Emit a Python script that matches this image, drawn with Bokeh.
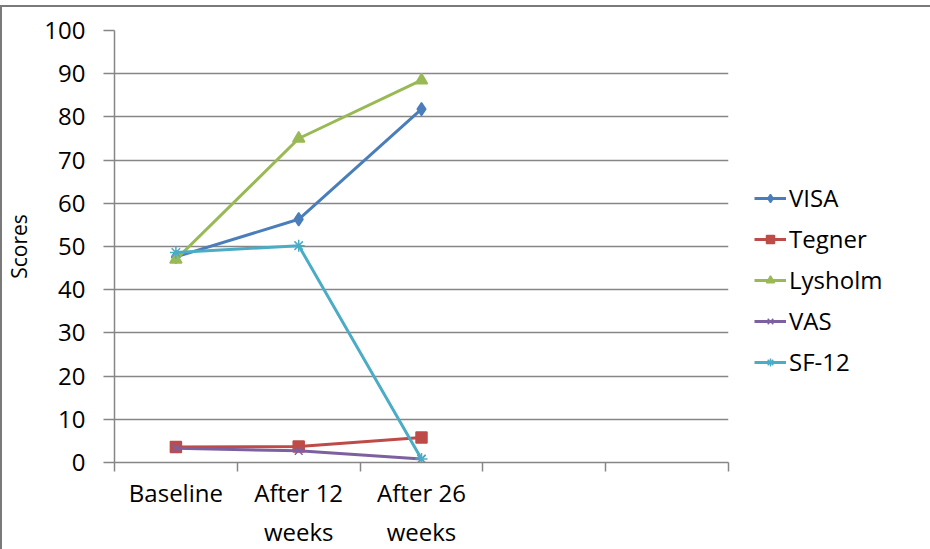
from bokeh.plotting import figure
from bokeh.models import FixedTicker, Legend, LegendItem, Range1d
from bokeh.embed import file_html
from bokeh.resources import INLINE

categories = ["Baseline", "After 12\nweeks", "After 26\nweeks", "", ""]
n_points = 3
visa = [47.6, 56.3, 81.8]
tegner = [3.6, 3.7, 5.8]
lysholm = [47.0, 75.0, 88.5]
vas = [3.3, 2.7, 0.8]
sf12 = [48.6, 50.2, 0.8]
y_ticks = list(range(0, 101, 10))

FONT = "Open Sans"
GREY = "#868686"

p = figure(frame_width=614, frame_height=432, output_backend="svg", toolbar_location=None,
           x_range=Range1d(0, len(categories)), y_range=Range1d(0, 100),
           min_border_left=100, min_border_top=23, min_border_right=199, min_border_bottom=76)
p.styles = {"border-top": "2px solid #7a7a7a", "border-left": "2px solid #7a7a7a",
            "position": "relative", "top": "5px"}
p.outline_line_color = None
p.background_fill_color = "white"
p.border_fill_color = "white"

xs = [i + 0.5 for i in range(n_points)]

p.xgrid.visible = False
p.ygrid.grid_line_color = GREY
p.ygrid.grid_line_width = 1.5

p.yaxis.ticker = FixedTicker(ticks=y_ticks)
p.yaxis.axis_line_color = GREY
p.yaxis.axis_line_width = 1.5
p.yaxis.major_tick_line_color = GREY
p.yaxis.major_tick_line_width = 1.5
p.yaxis.major_tick_in = 0
p.yaxis.major_tick_out = 11
p.yaxis.minor_tick_line_color = None
p.yaxis.major_label_text_font = FONT
p.yaxis.major_label_text_font_size = "24px"
p.yaxis.major_label_text_color = "black"
p.yaxis.major_label_standoff = 18
p.yaxis.axis_label = "Scores"
p.yaxis.axis_label_text_font = FONT
p.yaxis.axis_label_text_font_size = "21px"
p.yaxis.axis_label_text_font_style = "normal"
p.yaxis.axis_label_text_color = "black"
p.yaxis.axis_label_standoff = 8

p.xaxis.ticker = FixedTicker(ticks=[i + 0.5 for i in range(len(categories))],
                             minor_ticks=list(range(len(categories) + 1)))
p.xaxis.major_label_overrides = {i + 0.5: c for i, c in enumerate(categories)}
p.xaxis.axis_line_color = GREY
p.xaxis.axis_line_width = 1.5
p.xaxis.major_tick_line_color = None
p.xaxis.minor_tick_line_color = GREY
p.xaxis.minor_tick_line_width = 1.5
p.xaxis.minor_tick_in = 0
p.xaxis.minor_tick_out = 9
p.xaxis.major_label_text_font = FONT
p.xaxis.major_label_text_font_size = "24px"
p.xaxis.major_label_text_color = "black"
p.xaxis.major_label_standoff = 4

series = [
    ("VISA", visa, "#4A7EBB", "diamond", 13),
    ("Tegner", tegner, "#BE4B48", "square", 11),
    ("Lysholm", lysholm, "#98B954", "triangle", 12),
    ("VAS", vas, "#7D60A0", "x", 11),
    ("SF-12", sf12, "#4BACC6", "asterisk", 12),
]

items = []
for name, ys, color, marker, size in series:
    r1 = p.line(xs, ys, line_color=color, line_width=3)
    r2 = p.scatter(xs, ys, marker=marker, size=size, fill_color=color, line_color=color, line_width=1.5)
    items.append(LegendItem(label=name, renderers=[r1, r2]))

legend = Legend(items=items, location=(26, 84), border_line_color=None,
                background_fill_alpha=0, padding=0, margin=0, spacing=8,
                glyph_width=32, glyph_height=20, label_height=20, label_standoff=3,
                label_text_font=FONT, label_text_font_size="24px", label_text_color="black")
p.add_layout(legend, "right")

open("out.html", "w").write(file_html(p, INLINE))
